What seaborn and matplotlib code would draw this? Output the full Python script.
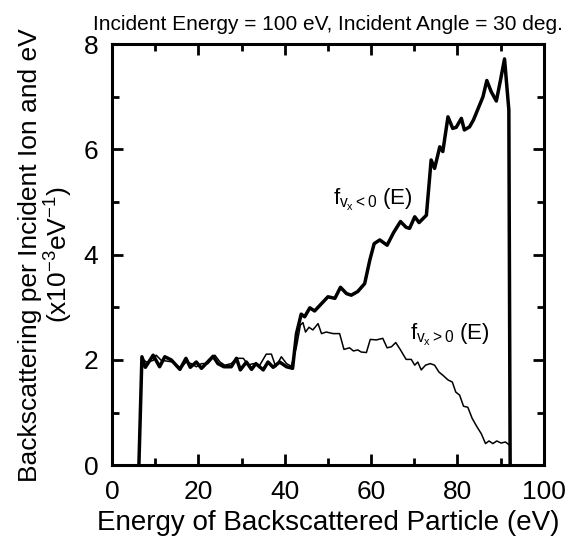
import matplotlib
matplotlib.use("Agg")
import matplotlib.pyplot as plt
from matplotlib.ticker import MultipleLocator
import seaborn as sns
import pandas as pd

# f_{vx<0}(E) (thick line)
neg_energy = [6.2, 6.9, 7.7, 9.5, 11.0, 12.2, 13.7, 15.7, 17.1, 18.1, 19.5, 20.7, 22.0, 23.4,
              24.5, 25.9, 27.6, 28.8, 29.7, 31.1, 32.3, 33.3, 35.0, 36.1, 37.3, 38.8, 40.4,
              41.8, 42.7, 43.8, 44.6, 45.8, 46.9, 48.5, 50.0, 51.6, 52.9, 54.3, 55.4, 56.9,
              58.5, 59.7, 60.7, 62.0, 63.7, 65.2, 66.8, 68.1, 68.9, 70.1, 71.1, 72.8, 73.9,
              74.7, 75.9, 76.6, 77.8, 78.9, 79.7, 80.9, 81.6, 82.8, 83.7, 85.1, 85.9, 86.8,
              87.8, 89.0, 89.9, 90.9, 91.9, 92.2]
neg_value = [0.0, 2.06, 1.86, 2.09, 1.87, 2.06, 2.00, 1.82, 2.03, 1.86, 1.96, 1.84, 1.95, 2.07,
             1.93, 1.87, 1.87, 2.03, 1.81, 1.96, 1.82, 1.93, 1.81, 1.96, 1.86, 1.96, 1.87,
             1.84, 2.50, 2.87, 2.82, 2.99, 2.93, 3.07, 3.20, 3.17, 3.38, 3.26, 3.23, 3.30,
             3.45, 3.90, 4.21, 4.28, 4.18, 4.42, 4.63, 4.52, 4.50, 4.72, 4.61, 4.75, 5.80,
             5.64, 6.05, 5.96, 6.62, 6.40, 6.42, 6.59, 6.37, 6.43, 6.56, 6.84, 7.00, 7.31,
             7.10, 6.92, 7.29, 7.72, 6.75, 0.0]

# f_{vx>0}(E) (thin line)
pos_energy = [6.2, 6.9, 7.9, 9.5, 10.2, 11.4, 12.5, 14.1, 15.9, 17.1, 18.3, 19.5, 20.7, 22.2,
              23.8, 25.0, 26.1, 27.6, 28.8, 30.4, 31.5, 32.7, 34.2, 35.7, 36.9, 37.9, 39.2,
              40.4, 41.5, 42.7, 43.6, 44.2, 44.8, 45.6, 46.5, 47.7, 48.5, 49.6, 51.2, 52.7,
              53.7, 55.0, 55.9, 56.9, 57.7, 58.9, 59.8, 61.2, 62.7, 63.7, 64.7, 65.7, 66.8,
              68.1, 69.3, 70.1, 70.8, 71.6, 72.6, 73.7, 74.7, 75.7, 76.6, 77.8, 78.8, 79.6,
              80.5, 81.4, 82.4, 83.4, 84.5, 85.5, 86.5, 87.3, 88.2, 89.1, 90.1, 91.1, 92.1,
              92.3]
pos_value = [0.0, 2.03, 1.96, 1.99, 2.09, 1.99, 1.98, 1.96, 1.84, 1.96, 1.93, 1.87, 1.93, 1.93,
             2.09, 1.96, 1.90, 1.93, 2.03, 2.03, 1.90, 1.93, 1.90, 2.11, 2.11, 1.87, 2.06,
             1.93, 1.88, 2.25, 2.66, 2.71, 2.53, 2.62, 2.57, 2.69, 2.50, 2.53, 2.50, 2.50,
             2.20, 2.23, 2.17, 2.19, 2.15, 2.14, 2.39, 2.38, 2.41, 2.23, 2.25, 2.33, 2.19,
             2.01, 2.01, 1.90, 1.96, 1.81, 1.90, 1.93, 1.90, 1.77, 1.71, 1.62, 1.58, 1.39,
             1.33, 1.12, 1.10, 0.89, 0.73, 0.60, 0.41, 0.46, 0.41, 0.46, 0.42, 0.44, 0.38,
             0.0]

x_ticks = [0, 20, 40, 60, 80, 100]
y_ticks = [0, 2, 4, 6, 8]

sns.set_style("ticks")
plt.rcParams["font.family"] = ["Liberation Sans", "DejaVu Sans"]
plt.rcParams["mathtext.fontset"] = "custom"
plt.rcParams["mathtext.rm"] = "Liberation Sans"
plt.rcParams["mathtext.it"] = "Liberation Sans"
plt.rcParams["text.color"] = "black"
plt.rcParams["axes.labelcolor"] = "black"

fig = plt.figure(figsize=(5.81, 5.39), dpi=100)
ax = fig.add_axes([0.193, 0.137, 0.743, 0.781])

df_neg = pd.DataFrame({"E": neg_energy, "f": neg_value})
df_pos = pd.DataFrame({"E": pos_energy, "f": pos_value})

sns.lineplot(data=df_pos, x="E", y="f", ax=ax, color="black", linewidth=1.1,
             sort=False, estimator=None)
sns.lineplot(data=df_neg, x="E", y="f", ax=ax, color="black", linewidth=2.5,
             sort=False, estimator=None)

ax.set_xlim(0, 100)
ax.set_ylim(0, 8)
ax.set_xticks(x_ticks)
ax.set_yticks(y_ticks)
ax.xaxis.set_minor_locator(MultipleLocator(10))
ax.yaxis.set_minor_locator(MultipleLocator(1))
ax.tick_params(which="both", direction="in", top=True, right=True, width=2, colors="black",
               labelsize=19)
ax.tick_params(axis="x", which="major", pad=11)
ax.tick_params(axis="y", which="major", pad=10)
ax.tick_params(which="major", length=8)
ax.tick_params(which="minor", length=5)
for s in ax.spines.values():
    s.set_linewidth(2.2)
    s.set_color("black")

ax.set_xlabel("Energy of Backscattered Particle (eV)", fontsize=20, labelpad=4, color="black")
ax.set_ylabel("Backscattering per Incident Ion and eV\n(x10$^{-3}$eV$^{-1}$)", fontsize=19,
              labelpad=6, linespacing=1.05, color="black")
ax.set_title("Incident Energy = 100 eV, Incident Angle = 30 deg.", fontsize=15, pad=10,
             color="black")

ax.text(51.1, 4.94, r"$f_{v_x<0}$ (E)", fontsize=16, color="black")
ax.text(68.9, 2.38, r"$f_{v_x>0}$ (E)", fontsize=16, color="black")

fig.savefig("out.png", dpi=100)
